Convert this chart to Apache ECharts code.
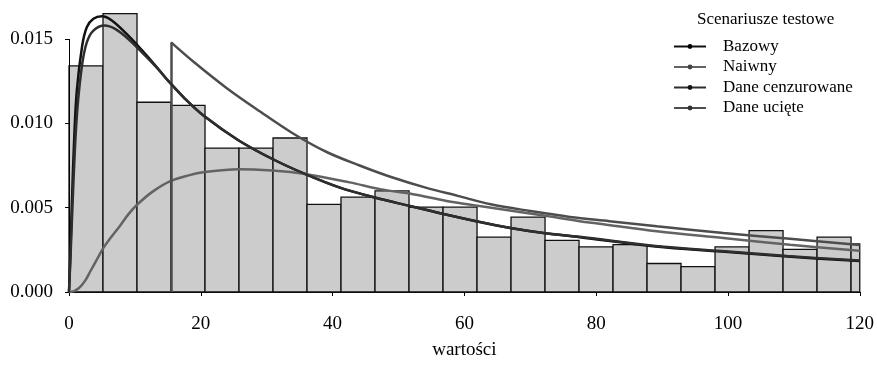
<!DOCTYPE html>
<html><head><meta charset="utf-8">
<script src="https://cdn.jsdelivr.net/npm/echarts@6/dist/echarts.min.js"></script>
<style>html,body{margin:0;padding:0;background:#fff}#c{width:877px;height:365px}</style>
</head><body><div id="c"></div>
<script>
// Histogram (density) bins
const binStarts = [0, 5.16, 10.32, 15.48, 20.64, 25.8, 30.96, 36.12, 41.28, 46.44, 51.6, 56.76, 61.92, 67.08, 72.24, 77.4, 82.56, 87.72, 92.88, 98.04, 103.2, 108.36, 113.52, 118.68];
const binWidth = 5.16;
const densities = [0.01341, 0.0165, 0.01125, 0.01106, 0.00853, 0.00853, 0.00913, 0.0052, 0.00562, 0.0060, 0.00503, 0.00503, 0.00325, 0.00444, 0.00306, 0.00267, 0.00281, 0.00169, 0.0015, 0.00267, 0.00364, 0.00253, 0.00325, 0.00285];

// Axis ticks
const xTicks = [0, 20, 40, 60, 80, 100, 120];
const yTicks = [0, 0.005, 0.010, 0.015];

const seriesNames = ['Bazowy', 'Naiwny', 'Dane cenzurowane', 'Dane ucięte'];
const legendTitle = 'Scenariusze testowe';
const xName = 'wartości';

// Density curves
const bazowyX = [0, 0.2, 0.45, 0.8, 1.2, 2, 2.7, 3.7, 5, 6.5, 9, 11.6, 13.8, 15.1, 17.5, 20.6, 25.7, 30.8, 35.8, 41, 46.4, 51.7, 56, 61.8, 67, 72, 77.5, 89, 99, 109, 120];
const bazowyY = [0, 0.0022, 0.0054, 0.0092, 0.0120, 0.0146, 0.0157, 0.0162, 0.01635, 0.0161, 0.0152, 0.0141, 0.0131, 0.0125, 0.0115, 0.0104, 0.0090, 0.0079, 0.0070, 0.0062, 0.0056, 0.0051, 0.0047, 0.0042, 0.0038, 0.0035, 0.00325, 0.0027, 0.0024, 0.0021, 0.00184];

const cenzX = [0, 0.2, 0.5, 0.9, 1.3, 2, 2.7, 3.7, 5.4, 7, 9, 11.6, 13.8, 15.1, 17.5, 20.6, 25.7, 30.8, 35.8, 41, 46.4, 51.7, 56, 61.8, 67, 72, 77.5, 89, 99, 109, 120];
const cenzY = [0, 0.0018, 0.0048, 0.0085, 0.0110, 0.0135, 0.0148, 0.0155, 0.0158, 0.0156, 0.0150, 0.0140, 0.0131, 0.0125, 0.0115, 0.0104, 0.0090, 0.0079, 0.0070, 0.0062, 0.0056, 0.0051, 0.0047, 0.0042, 0.0038, 0.0035, 0.00327, 0.00273, 0.00243, 0.00213, 0.00187];

const naiwnyX = [0, 0.5, 1, 1.7, 2.5, 3.2, 4.2, 5.2, 6.5, 7.7, 9, 10.4, 12.8, 15.3, 18, 20.6, 25.7, 30.8, 35.8, 42.6, 47.2, 52.2, 57.3, 62.3, 67.4, 72.5, 77.5, 80.5, 89.2, 99.3, 109.4, 120];
const naiwnyY = [0, 0.00002, 0.0001, 0.0003, 0.0007, 0.0012, 0.0019, 0.0026, 0.0033, 0.0039, 0.0046, 0.0052, 0.00598, 0.00656, 0.0069, 0.00711, 0.00728, 0.0072, 0.0070, 0.0065, 0.0061, 0.0058, 0.0054, 0.0051, 0.0048, 0.0045, 0.0042, 0.00405, 0.0036, 0.0032, 0.0028, 0.00244];

const ucieteX = [15.5, 18.9, 23.9, 29, 34, 39.1, 44.1, 49, 54, 59, 64, 70, 76, 82, 89.2, 99.3, 109.4, 120];
const ucieteY = [0.0148, 0.01365, 0.0121, 0.0107, 0.0094, 0.0083, 0.0075, 0.0068, 0.0062, 0.0057, 0.0052, 0.0048, 0.00445, 0.0042, 0.0039, 0.0035, 0.00315, 0.00278];

const xMin = 0, xMax = 120, yMax = 0.0166;
const font = 'Liberation Serif';

const histData = binStarts.map((s, i) => [s, Math.min(s + binWidth, xMax), densities[i]]);
const pairs = (xs, ys) => xs.map((x, i) => [x, ys[i]]);

const lineColors = ['#111111', '#636363', '#2e2e2e', '#4d4d4d'];
const dotColors = ['#000000', '#444444', '#111111', '#333333'];
const curveData = [pairs(bazowyX, bazowyY), pairs(naiwnyX, naiwnyY), pairs(cenzX, cenzY), pairs(ucieteX, ucieteY)];

const chart = echarts.init(document.getElementById('c'), null, {renderer: 'canvas'});

const lineSeries = seriesNames.map((n, i) => ({
  name: n,
  type: 'line',
  data: curveData[i],
  showSymbol: false,
  symbol: 'circle',
  symbolSize: 5,
  smooth: 0.35,
  clip: true,
  z: 3 + i,
  itemStyle: {color: dotColors[i]},
  lineStyle: {color: lineColors[i], width: 2.5}
}));
// y-axis line spanning first..last tick (decoration via data coords)
lineSeries[0].markLine = {
  silent: true, animation: false, symbol: ['none', 'none'], label: {show: false},
  lineStyle: {color: '#000', width: 1, type: 'solid'},
  data: [[{coord: [xMin, yTicks[0]]}, {coord: [xMin, yTicks[yTicks.length - 1]]}]]
};
// vertical jump of the truncated density at its truncation point
lineSeries[3].markLine = {
  silent: true, animation: false, symbol: ['none', 'none'], label: {show: false},
  lineStyle: {color: lineColors[3], width: 2.5, type: 'solid'},
  data: [[{coord: [ucieteX[0], 0]}, {coord: [ucieteX[0], ucieteY[0]]}]]
};

const option = {
  animation: false,
  backgroundColor: '#ffffff',
  textStyle: {fontFamily: font},
  grid: {left: 69, right: 17, top: 12, bottom: 58},
  title: {
    text: legendTitle, left: 697, top: 11, padding: 0,
    textStyle: {fontFamily: font, fontSize: 17, fontWeight: 'normal', color: '#000'}
  },
  legend: {
    orient: 'vertical', left: 673, top: 38, padding: 0,
    itemWidth: 32, itemHeight: 6, itemGap: 3.5,
    textStyle: {fontFamily: font, fontSize: 17, color: '#000', padding: [0, 0, 0, 12]},
    data: seriesNames.map(n => ({name: n}))
  },
  xAxis: {
    type: 'value', min: xMin, max: xMax,
    name: xName, nameLocation: 'middle', nameGap: 49,
    nameTextStyle: {fontFamily: font, fontSize: 19, color: '#000'},
    axisLine: {show: true, onZero: false, lineStyle: {color: '#000', width: 1}},
    axisTick: {show: true, length: 4, customValues: xTicks, lineStyle: {color: '#000', width: 1}},
    axisLabel: {customValues: xTicks, margin: 23, fontSize: 19, color: '#000', fontFamily: font},
    splitLine: {show: false}
  },
  yAxis: {
    type: 'value', min: 0, max: yMax,
    axisLine: {show: false},
    axisTick: {show: true, length: 4, customValues: yTicks, lineStyle: {color: '#000', width: 1}},
    axisLabel: {customValues: yTicks, formatter: v => v.toFixed(3), margin: 16, fontSize: 19, color: '#000', fontFamily: font},
    splitLine: {show: false}
  },
  series: [{
    type: 'custom',
    name: 'hist',
    data: histData,
    encode: {x: [0, 1], y: 2},
    z: 1,
    renderItem: (params, api) => {
      const p0 = api.coord([api.value(0), api.value(2)]);
      const p1 = api.coord([api.value(1), 0]);
      return {
        type: 'rect',
        shape: {x: p0[0], y: p0[1], width: p1[0] - p0[0], height: p1[1] - p0[1]},
        style: {fill: '#cccccc', stroke: '#111', lineWidth: 1.3}
      };
    }
  }].concat(lineSeries)
};
chart.setOption(option);
</script></body></html>
